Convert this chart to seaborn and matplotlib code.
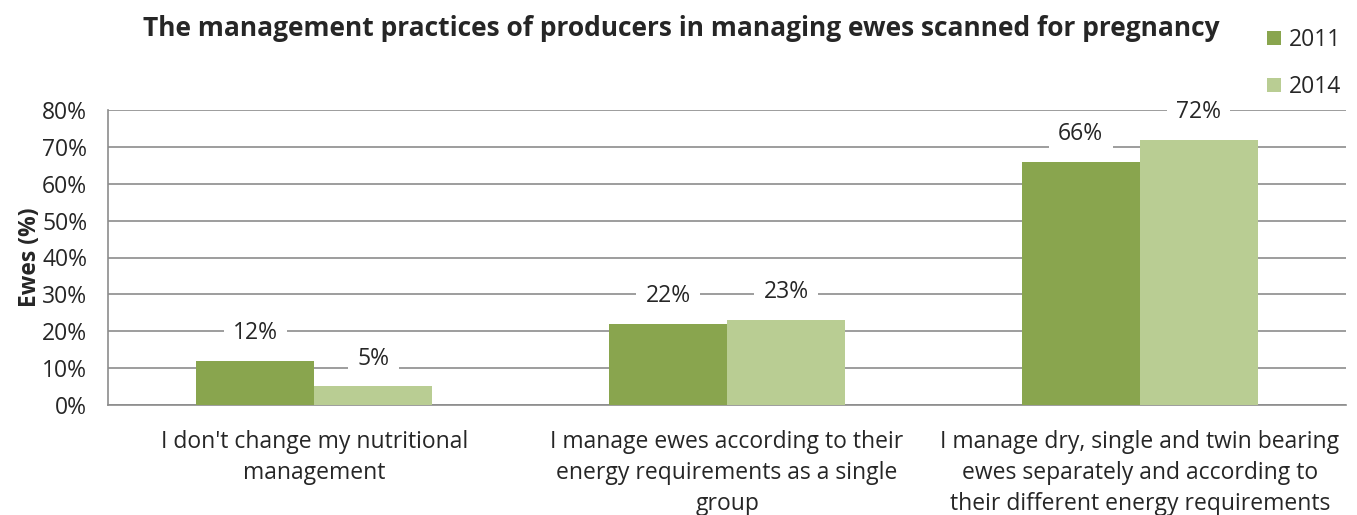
import pandas as pd
import matplotlib.pyplot as plt
import seaborn as sns

# data
categories = [
    "I don't change my nutritional\nmanagement",
    "I manage ewes according to their\nenergy requirements as a single\ngroup",
    "I manage dry, single and twin bearing\newes separately and according to\ntheir different energy requirements",
]
years = ["2011", "2014"]
values_2011 = [12, 22, 66]
values_2014 = [5, 23, 72]

df = pd.DataFrame({
    "category": categories * 2,
    "year": [years[0]] * 3 + [years[1]] * 3,
    "ewes": values_2011 + values_2014,
})

sns.set_style("white")
plt.rcParams['font.family'] = ['Open Sans', 'DejaVu Sans']

fig, ax = plt.subplots(figsize=(13.57, 5.15), dpi=100)
fig.subplots_adjust(left=0.0796, right=0.992, top=0.786, bottom=0.214)

fs = 16.5
palette = {"2011": "#89a54e", "2014": "#b9cd93"}
sns.barplot(data=df, x="category", y="ewes", hue="year", palette=palette,
            width=0.572, saturation=1, linewidth=0, ax=ax, zorder=3)

ax.set_ylim(0, 80)
ax.set_xlim(-0.5, 2.5)
ax.set_yticks(range(0, 81, 10))
ax.set_yticklabels([f"{t}%" for t in range(0, 81, 10)], fontsize=fs)
ax.tick_params(axis='x', labelsize=fs, length=0, pad=18)
ax.tick_params(axis='y', length=0, pad=15)
for lab in ax.get_xticklabels():
    lab.set_linespacing(1.4)
ax.yaxis.grid(True, color="#8c8c8c", linewidth=1.2, zorder=0)
ax.set_axisbelow(True)
for s in ["top", "right"]:
    ax.spines[s].set_visible(False)
for s in ["left", "bottom"]:
    ax.spines[s].set_color("#8c8c8c")
    ax.spines[s].set_linewidth(1.2)
ax.set_xlabel("")
ax.set_ylabel("Ewes (%)", fontsize=fs, fontweight="bold", labelpad=0)

# value labels with white boxes over the gridlines
for cont in ax.containers:
    for bar in cont:
        h = bar.get_height()
        ax.annotate(f"{h:.0f}%", (bar.get_x() + bar.get_width() / 2, h),
                    xytext=(0, 20), textcoords="offset points",
                    ha="center", va="center", fontsize=fs, zorder=5,
                    bbox=dict(boxstyle="square,pad=0.4", fc="white", ec="none"))

leg = ax.legend(loc="upper left", bbox_to_anchor=(0.929, 1.31), frameon=False,
                fontsize=fs, handlelength=0.6, handleheight=0.6,
                handletextpad=0.35, labelspacing=1.0, borderaxespad=0)

fig.text(0.502, 0.945, "The management practices of producers in managing ewes scanned for pregnancy",
         ha="center", va="center", fontsize=19, fontweight="bold")

fig.savefig("out.png", dpi=100)
